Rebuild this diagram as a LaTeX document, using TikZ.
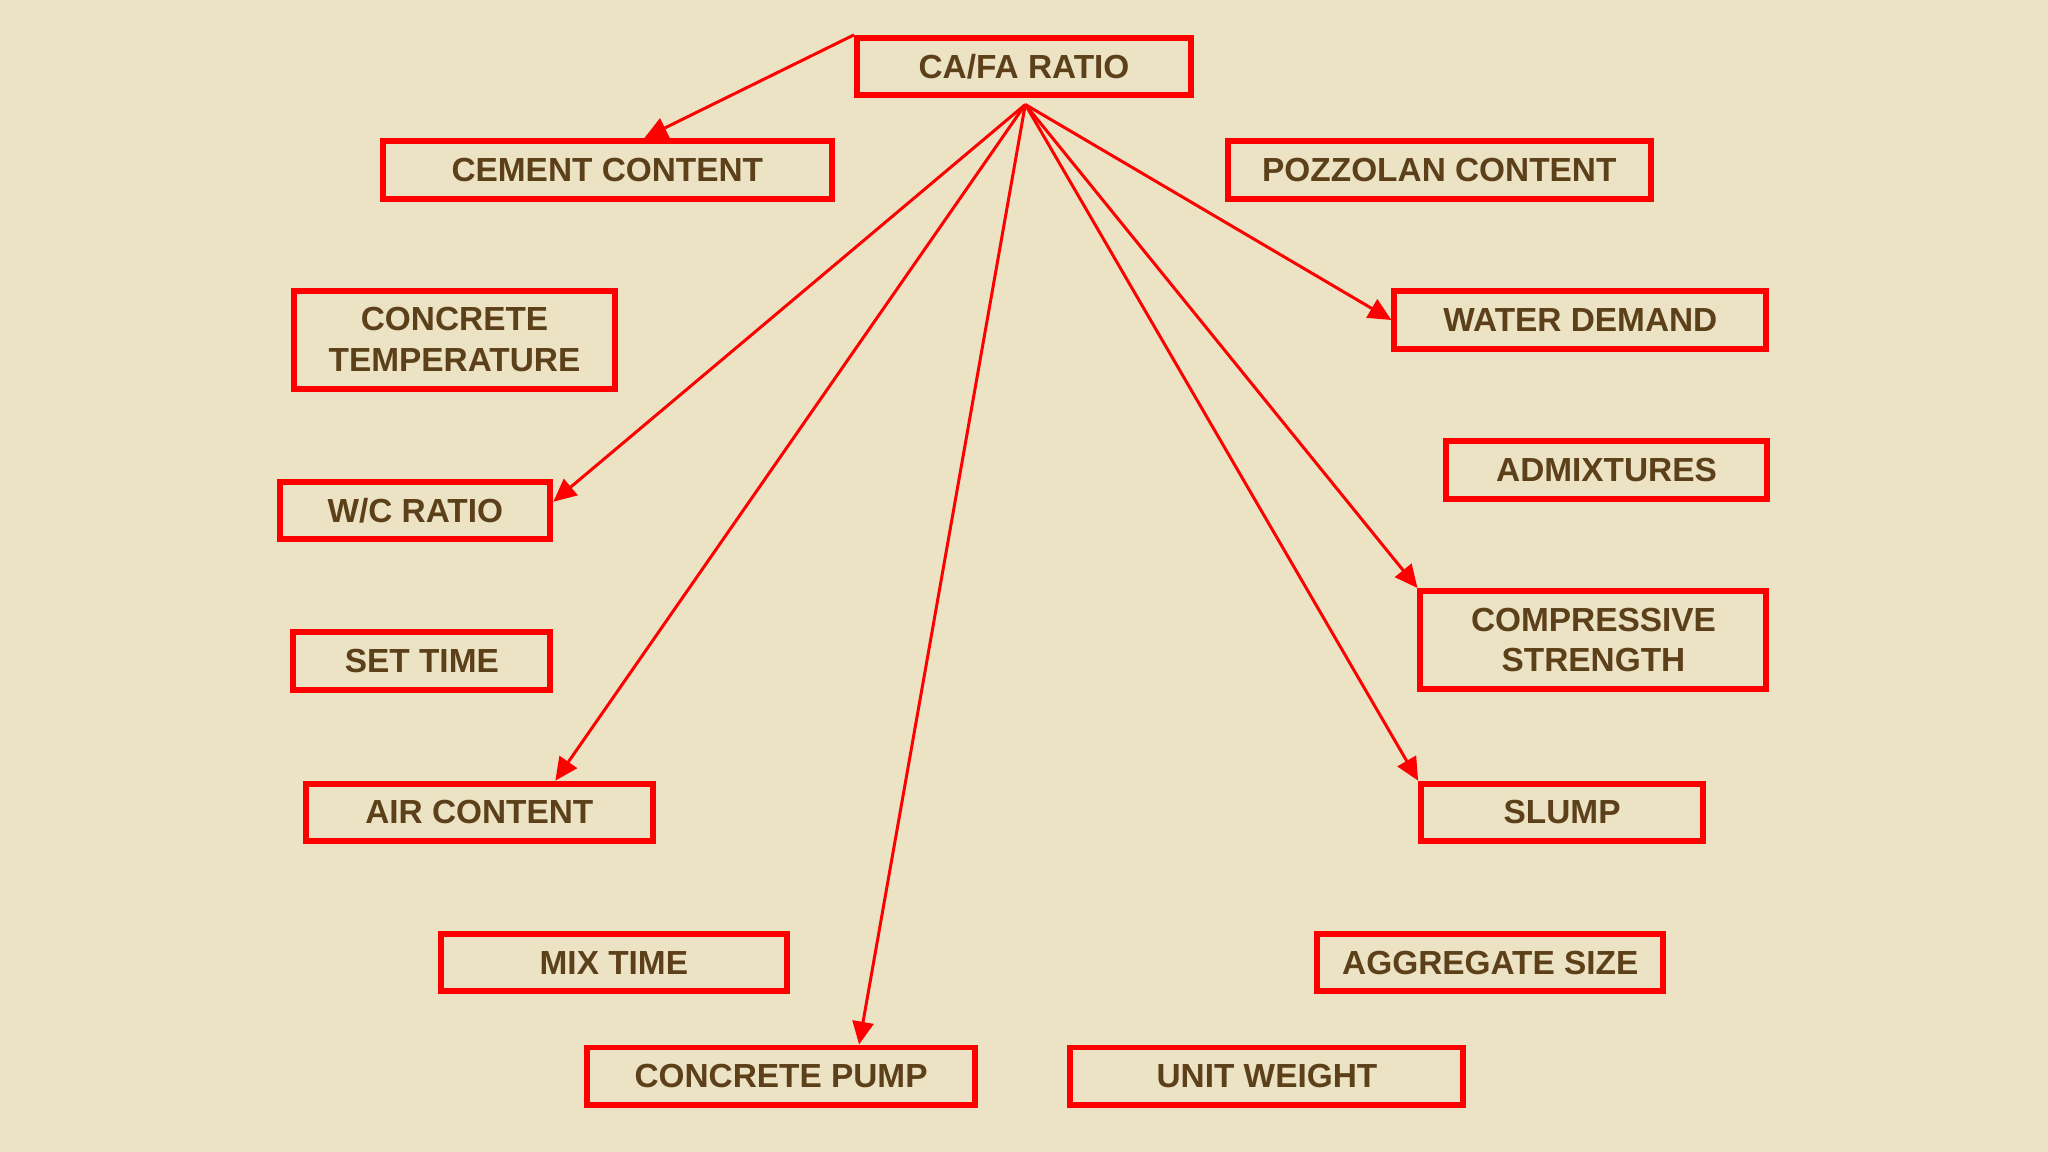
\documentclass[tikz,border=0pt]{standalone}
\usepackage{fontspec}
\setmainfont{Liberation Sans}
\usepackage{tikz}
\usetikzlibrary{arrows.meta}
\definecolor{paper}{RGB}{236,226,196}
\definecolor{inkbrown}{RGB}{92,64,26}
\definecolor{boxred}{RGB}{255,0,0}
\begin{document}
\begin{tikzpicture}[x=0.013061cm,y=-0.013061cm]
    \tikzstyle{b} = [draw=boxred, line width=1.7pt, inner sep=0pt, minimum height=0.575cm,
      align=center, text=inkbrown, font=\fontsize{9.5}{11.5}\selectfont\bfseries]
    \tikzstyle{e} = [draw=boxred, line width=0.85pt, -{Triangle[length=6.5pt,width=6pt]}]
    \fill[paper] (0,0) rectangle (1568,882);
    \useasboundingbox (0,0) rectangle (1568,882);
    % factors
    \node[b, minimum width=3.34cm] (cafa) at (784,51) {CA/FA RATIO};
    \node[b, minimum width=4.49cm] (cement) at (465,130) {CEMENT CONTENT};
    \node[b, minimum width=4.23cm] (pozz) at (1102,130) {POZZOLAN CONTENT};
    \node[b, minimum width=3.21cm, minimum height=0.98cm] (temp) at (348,260) {CONCRETE\\TEMPERATURE};
    \node[b, minimum width=3.72cm] (water) at (1210,245) {WATER DEMAND};
    \node[b, minimum width=3.21cm] (admix) at (1230,360) {ADMIXTURES};
    \node[b, minimum width=2.70cm] (wc) at (318,391) {W/C RATIO};
    \node[b, minimum width=3.46cm, minimum height=0.98cm] (comp) at (1220,490) {COMPRESSIVE\\STRENGTH};
    \node[b, minimum width=2.57cm] (set) at (323,506) {SET TIME};
    \node[b, minimum width=3.47cm] (air) at (367,622) {AIR CONTENT};
    \node[b, minimum width=2.82cm] (slump) at (1196,622) {SLUMP};
    \node[b, minimum width=3.46cm] (mix) at (470,737) {MIX TIME};
    \node[b, minimum width=3.46cm] (agg) at (1141,737) {AGGREGATE SIZE};
    \node[b, minimum width=3.88cm] (pump) at (598,824) {CONCRETE PUMP};
    \node[b, minimum width=3.93cm] (unit) at (970,824) {UNIT WEIGHT};
    \coordinate (hub) at (785,80);
    % arrows
    \draw [e] (cafa.north west) -- ([xshift=0.37cm]cement.north);
    \draw [e] (hub) -- ([yshift=0.09cm]wc.east);
    \draw [e] (hub) -- ([xshift=0.76cm]air.north);
    \draw [e] (hub) -- ([xshift=0.78cm]pump.north);
    \draw [e] (hub) -- (slump.north west);
    \draw [e] (hub) -- (comp.north west);
    \draw [e] (hub) -- (water.west);
\end{tikzpicture}
\end{document}
